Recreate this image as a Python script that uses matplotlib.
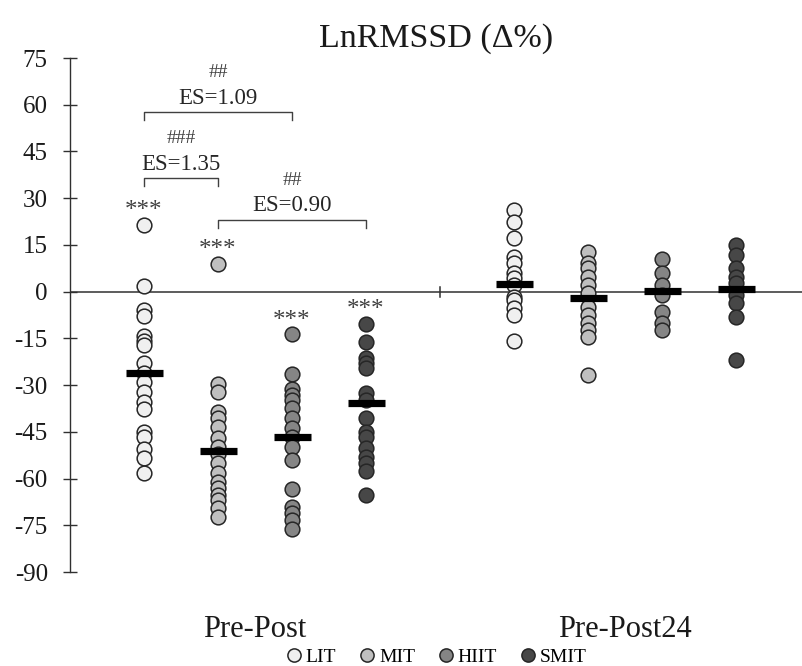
import numpy as np
import matplotlib
matplotlib.use("Agg")
import matplotlib.pyplot as plt
from matplotlib.lines import Line2D

plt.rcParams["font.family"] = ["Liberation Serif", "DejaVu Serif"]
plt.rcParams["axes.unicode_minus"] = False

# grupos y posiciones de cada columna
grupos = ["LIT", "MIT", "HIIT", "SMIT"]
periodos = ["Pre-Post", "Pre-Post24"]
colores = ["#f0f0f0", "#bfbfbf", "#858585", "#474747"]

# cambios individuales (%) Pre-Post
pre_post = {
    "LIT": [21.4, 1.8, -5.9, -7.8, -14.3, -15.8, -17.1, -22.8, -26.2, -28.9,
            -32.1, -35.3, -37.8, -45.0, -46.6, -50.6, -53.5, -58.1],
    "MIT": [9.0, -29.5, -32.2, -38.5, -40.5, -43.5, -47.1, -50.0, -52.0, -55.1,
            -58.3, -61.0, -63.0, -65.3, -67.0, -69.6, -72.3],
    "HIIT": [-13.7, -26.5, -31.4, -33.2, -34.8, -37.5, -40.7, -43.9, -46.6, -49.8,
             -54.1, -63.2, -69.1, -71.2, -73.3, -76.3],
    "SMIT": [-10.4, -16.1, -21.4, -23.0, -24.6, -32.6, -34.8, -40.7, -45.0, -46.6,
             -50.3, -53.0, -55.1, -57.5, -65.3],
}
# cambios individuales (%) Pre-Post24
pre_post24 = {
    "LIT": [26.2, 22.2, 17.1, 11.2, 9.1, 5.9, 4.3, 2.1, -1.6, -2.7, -5.4, -7.5, -15.9],
    "MIT": [12.8, 9.1, 7.5, 4.8, 2.1, -0.5, -4.8, -7.5, -10.2, -12.3, -14.5, -26.8],
    "HIIT": [10.4, 5.9, 2.1, -1.1, -6.5, -10.2, -12.3],
    "SMIT": [15.0, 11.8, 7.5, 4.8, 2.7, -1.1, -3.8, -8.1, -22.0],
}
# medias de cada grupo
medias_pp = [-26.2, -51.2, -46.6, -35.7]
medias_pp24 = [2.3, -2.1, 0.1, 0.9]

# comparaciones entre grupos: (grupo1, grupo2, altura, simbolo, ES)
comparaciones = [
    (0, 1, 36.4, "###", "ES=1.35"),
    (0, 2, 57.6, "##", "ES=1.09"),
    (1, 3, 23.0, "##", "ES=0.90"),
]
# altura de los asteriscos sobre cada grupo Pre-Post
asteriscos = [26.0, 13.5, -9.5, -5.8]

fig = plt.figure(figsize=(8.02, 6.66), dpi=100)
ax = fig.add_axes([0.0873, 0.1411, 0.9135, 0.7718])

tinta = "#262626"
datos = [pre_post, pre_post24]
medias = [medias_pp, medias_pp24]
for j, periodo in enumerate(periodos):
    for i, g in enumerate(grupos):
        x = 1 + i + 5 * j
        vals = datos[j][g]
        ax.scatter([x] * len(vals), vals, s=112, c=colores[i],
                   edgecolors=tinta, linewidths=1.1, zorder=3, clip_on=False)
        ax.hlines(medias[j][i], x - 0.25, x + 0.25, colors="black",
                  linewidth=5.2, zorder=4)

# linea del cero y separacion de periodos
ax.axhline(0, color="#303030", linewidth=1.1, zorder=1)
ax.plot([5, 5], [-1.6, 1.6], color="#303030", linewidth=1.1, zorder=1)

# asteriscos
for i, yv in enumerate(asteriscos):
    ax.text(1 + i, yv, "***", ha="center", va="center", fontsize=18,
            color="#404040", zorder=5)

# corchetes con tamano del efecto
for g1, g2, yv, sym, es in comparaciones:
    x1, x2 = 1 + g1, 1 + g2
    ax.plot([x1, x1, x2, x2], [yv - 2.6, yv, yv, yv - 2.6], color="#404040",
            linewidth=1.0, clip_on=False)
    ax.text((x1 + x2) / 2, yv + 4.5, es, ha="center", va="center",
            fontsize=16.5, color="#262626")
    ax.text((x1 + x2) / 2, yv + 12.8, sym, ha="center", va="center",
            fontsize=14, color="#404040")

ax.set_xlim(0, 9.9)
ax.set_ylim(-90, 75)
ax.set_yticks(np.arange(-90, 76, 15))
ax.tick_params(axis="y", direction="inout", length=10, width=1.0,
               color="#303030", labelsize=18, pad=11, labelcolor="#1a1a1a")
ax.set_xticks([2.5, 7.5])
ax.set_xticklabels(periodos)
ax.tick_params(axis="x", length=0, labelsize=22, pad=31, labelcolor="#1a1a1a")
for lado in ["top", "right", "bottom"]:
    ax.spines[lado].set_visible(False)
ax.spines["left"].set_color("#303030")
ax.spines["left"].set_linewidth(1.0)

ax.set_title("LnRMSSD (\u0394%)", fontsize=24.5, pad=8, color="#1a1a1a")

# leyenda inferior
handles = [Line2D([], [], marker="o", linestyle="", markersize=9.5,
                  markerfacecolor=c, markeredgecolor=tinta, markeredgewidth=1.1)
           for c in colores]
fig.legend(handles, grupos, loc="center", bbox_to_anchor=(0.543, 0.013),
           ncol=4, frameon=False, fontsize=14, handletextpad=0.1,
           columnspacing=1.1, handlelength=1.0, borderpad=0, borderaxespad=0)

fig.savefig("out.png", dpi=100)
